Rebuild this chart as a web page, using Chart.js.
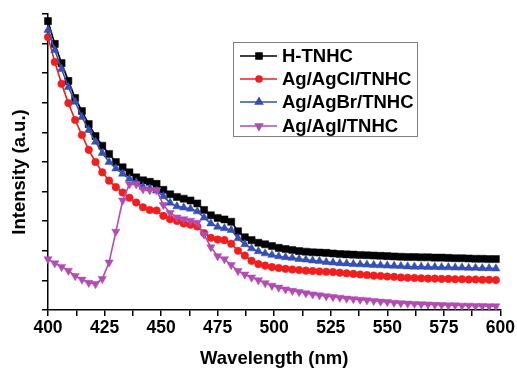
<!DOCTYPE html>
<html>
<head>
<meta charset="utf-8">
<script src="https://cdn.jsdelivr.net/npm/chart.js@4.4.1/dist/chart.umd.min.js"></script>
<style>
html,body{margin:0;padding:0;background:#fff;}
#wrap{width:517px;height:370px;}
</style>
</head>
<body>
<div id="wrap"><canvas id="c" width="517" height="370"></canvas></div>
<script>
const wavelengths = [400,403,406,409,412,415,418,421,424,427,430,433,436,439,442,445,448,451,454,457,460,463,466,469,472,475,478,481,484,487,490,493,496,499,502,505,508,511,514,517,520,523,526,529,532,535,538,541,544,547,550,553,556,559,562,565,568,571,574,577,580,583,586,589,592,595,598];

const hTNHC = [9.76,8.99,8.34,7.74,7.16,6.72,6.28,5.88,5.55,5.27,5.00,4.82,4.65,4.48,4.38,4.33,4.26,4.06,3.91,3.82,3.76,3.70,3.60,3.38,3.20,3.11,3.06,2.98,2.66,2.46,2.36,2.27,2.22,2.16,2.10,2.06,2.03,1.99,1.97,1.95,1.94,1.93,1.91,1.89,1.88,1.87,1.86,1.85,1.84,1.83,1.82,1.81,1.80,1.79,1.79,1.78,1.78,1.77,1.77,1.76,1.75,1.75,1.74,1.73,1.73,1.72,1.72];

const agClTNHC = [9.22,8.38,7.64,6.99,6.42,5.91,5.41,5.00,4.65,4.37,4.15,3.97,3.79,3.63,3.47,3.38,3.36,3.18,3.07,3.01,2.92,2.88,2.82,2.60,2.44,2.38,2.36,2.24,2.00,1.84,1.66,1.55,1.50,1.45,1.42,1.39,1.37,1.35,1.33,1.32,1.30,1.29,1.28,1.26,1.24,1.22,1.20,1.18,1.16,1.15,1.13,1.12,1.10,1.09,1.08,1.07,1.06,1.06,1.05,1.05,1.04,1.04,1.03,1.03,1.02,1.02,1.01];

const agBrTNHC = [9.46,8.78,8.14,7.53,7.03,6.52,6.08,5.68,5.30,5.00,4.78,4.60,4.43,4.31,4.16,4.10,4.03,3.84,3.62,3.50,3.46,3.42,3.33,3.12,2.92,2.81,2.76,2.70,2.42,2.22,2.08,1.98,1.91,1.86,1.81,1.78,1.76,1.72,1.70,1.67,1.65,1.62,1.60,1.58,1.57,1.55,1.54,1.53,1.52,1.51,1.50,1.49,1.48,1.47,1.46,1.46,1.45,1.45,1.44,1.44,1.43,1.43,1.42,1.42,1.41,1.41,1.40];

const agITNHC = [1.72,1.58,1.46,1.33,1.15,1.03,0.92,0.88,1.05,1.61,2.65,3.70,4.25,4.25,4.08,4.05,4.05,3.55,3.28,3.13,3.07,3.02,2.95,2.55,2.12,1.82,1.72,1.52,1.32,1.20,1.10,1.01,0.91,0.82,0.76,0.70,0.65,0.61,0.57,0.53,0.50,0.47,0.44,0.42,0.39,0.37,0.35,0.33,0.31,0.29,0.27,0.25,0.23,0.22,0.21,0.20,0.19,0.18,0.17,0.16,0.16,0.15,0.15,0.14,0.14,0.13,0.13];

const seriesNames = ['H-TNHC','Ag/AgCl/TNHC','Ag/AgBr/TNHC','Ag/AgI/TNHC'];
const xTickLabels = [400,425,450,475,500,525,550,575,600];
const xAxisTitle = 'Wavelength (nm)';
const yAxisTitle = 'Intensity (a.u.)';

const toXY = vals => vals.map((v,i)=>({x:wavelengths[i], y:v}));

const styles = [
  {color:'#000000', pointStyle:'rect', radius:5, rotation:0},
  {color:'#f01e1e', pointStyle:'circle', radius:3.8, rotation:0},
  {color:'#3550b5', pointStyle:'triangle', radius:4.8, rotation:0},
  {color:'#b24cb2', pointStyle:'triangle', radius:4.8, rotation:180}
];
const allSeries = [hTNHC, agClTNHC, agBrTNHC, agITNHC];
const FONT = '"Liberation Sans", Arial, sans-serif';

const datasets = allSeries.map((vals,i)=>({
  label: seriesNames[i],
  data: toXY(vals),
  borderColor: styles[i].color,
  backgroundColor: styles[i].color,
  pointBackgroundColor: styles[i].color,
  pointBorderColor: styles[i].color,
  pointStyle: styles[i].pointStyle,
  pointRadius: styles[i].radius,
  pointRotation: styles[i].rotation,
  pointBorderWidth: 0.5,
  borderWidth: 1.6,
  tension: 0,
  clip: 8
})).reverse();

const boxLegend = {
  id: 'boxLegend',
  afterDraw(chart){
    const ctx = chart.ctx;
    ctx.save();
    // y axis title
    ctx.translate(20, 172);
    ctx.rotate(-Math.PI/2);
    ctx.fillStyle = '#000';
    ctx.font = 'bold 18.5px ' + FONT;
    ctx.textAlign = 'center';
    ctx.textBaseline = 'middle';
    ctx.fillText(yAxisTitle, 0, 0);
    ctx.restore();

    ctx.save();
    const x0 = 233, y0 = 42, w = 184, h = 94;
    ctx.fillStyle = '#ffffff';
    ctx.fillRect(x0, y0, w, h);
    ctx.strokeStyle = '#808080';
    ctx.lineWidth = 1;
    ctx.strokeRect(x0+0.5, y0+0.5, w, h);
    const rowY = [56, 79, 102, 126];
    seriesNames.forEach((name, i) => {
      const st = styles[i];
      const y = rowY[i];
      ctx.strokeStyle = st.color;
      ctx.lineWidth = 1.6;
      ctx.beginPath();
      ctx.moveTo(240, y);
      ctx.lineTo(277, y);
      ctx.stroke();
      ctx.fillStyle = st.color;
      Chart.helpers.drawPoint(ctx, {pointStyle: st.pointStyle, radius: st.radius - 0.8, rotation: st.rotation, borderWidth: 0.5}, 259, y);
      ctx.fillStyle = '#000';
      ctx.font = 'bold 18.5px ' + FONT;
      ctx.textBaseline = 'middle';
      ctx.textAlign = 'left';
      ctx.fillText(name, 282, y + 1);
    });
    ctx.restore();
  }
};

new Chart(document.getElementById('c'), {
  type: 'line',
  data: { datasets },
  options: {
    responsive: false,
    animation: false,
    layout: { padding: { left: 0, right: 16, top: 14, bottom: 0 } },
    plugins: { legend: { display: false }, tooltip: { enabled: false } },
    scales: {
      x: {
        type: 'linear',
        min: 400, max: 600,
        afterFit: s => { s.height = 60; },
        afterBuildTicks: s => {
          const t = [];
          xTickLabels.forEach((v, i) => {
            t.push({value: v});
            if (i < xTickLabels.length - 1) t.push({value: (v + xTickLabels[i+1]) / 2});
          });
          s.ticks = t;
        },
        ticks: {
          autoSkip: false, maxRotation: 0, padding: 2,
          color: '#000',
          font: { family: FONT, size: 17.5, weight: 'bold' },
          callback: v => xTickLabels.includes(v) ? String(v) : ''
        },
        grid: { drawOnChartArea: false, drawTicks: true, tickLength: 6, color: '#000', lineWidth: 1.5 },
        border: { display: true, color: '#000', width: 1.5 },
        title: {
          display: true, text: xAxisTitle, color: '#000',
          font: { family: FONT, size: 18.5, weight: 'bold' },
          padding: { top: 0, bottom: 0 }
        }
      },
      y: {
        min: 0, max: 10,
        afterFit: s => { s.width = 48; },
        ticks: { stepSize: 1, display: false },
        grid: { drawOnChartArea: false, drawTicks: true, tickLength: 6, color: '#000', lineWidth: 1.5 },
        border: { display: true, color: '#000', width: 1.5 },
        title: { display: false }
      }
    }
  },
  plugins: [boxLegend]
});
</script>
</body>
</html>
